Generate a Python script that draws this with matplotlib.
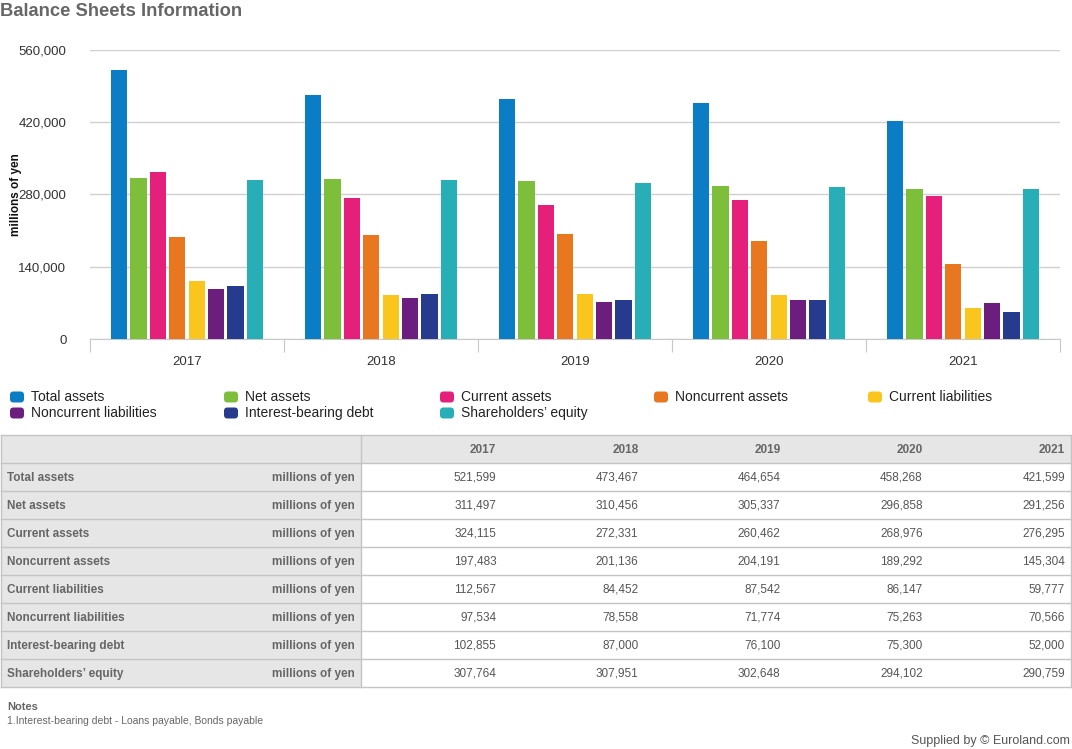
import matplotlib.pyplot as plt
import numpy as np
from matplotlib.patches import Rectangle, FancyBboxPatch

plt.rcParams['font.family'] = ['Liberation Sans', 'DejaVu Sans']

# data
years = ['2017', '2018', '2019', '2020', '2021']
series = ['Total assets', 'Net assets', 'Current assets', 'Noncurrent assets',
          'Current liabilities', 'Noncurrent liabilities', 'Interest-bearing debt',
          "Shareholders' equity"]
total_assets = [521599, 473467, 464654, 458268, 421599]
net_assets = [311497, 310456, 305337, 296858, 291256]
current_assets = [324115, 272331, 260462, 268976, 276295]
noncurrent_assets = [197483, 201136, 204191, 189292, 145304]
current_liab = [112567, 84452, 87542, 86147, 59777]
noncurrent_liab = [97534, 78558, 71774, 75263, 70566]
interest_debt = [102855, 87000, 76100, 75300, 52000]
equity = [307764, 307951, 302648, 294102, 290759]
values = [total_assets, net_assets, current_assets, noncurrent_assets,
          current_liab, noncurrent_liab, interest_debt, equity]
yticks = [0, 140000, 280000, 420000, 560000]
colors = ['#0a7dc5', '#7dbf3b', '#e5207a', '#e8771f', '#fac51c',
          '#6c1e7f', '#263b8d', '#28aeb6']

W, H = 1072, 749
fig = plt.figure(figsize=(W / 100, H / 100), dpi=100)

# ---- bar chart
ax = fig.add_axes([90 / W, 1 - 339 / H, 970 / W, 289 / H])
n = len(series)
pitch = 0.100
bw = 0.083
x = np.arange(len(years))
for i, (name, vals) in enumerate(zip(series, values)):
    ax.bar(x + (i - (n - 1) / 2) * pitch, vals, width=bw, color=colors[i], zorder=3)
ax.set_xlim(-0.5, len(years) - 0.5)
ax.set_ylim(0, 560000)
ax.set_yticks(yticks)
ax.set_yticklabels([f'{v:,}' for v in yticks], fontsize=9.5, color='#333333')
ax.yaxis.grid(True, color='#d0d0d0', lw=1, zorder=0)
ax.tick_params(axis='y', length=0, pad=17)
ax.set_xticks(np.arange(len(years) + 1) - 0.5)
ax.set_xticklabels([])
ax.tick_params(axis='x', length=9, color='#c8c8c8', direction='out')
for xi, yr in zip(x, years):
    ax.text(xi, -0.078, yr, transform=ax.get_xaxis_transform(), ha='center',
            va='center', fontsize=9.5, color='#333333')
for s in ['top', 'right', 'left']:
    ax.spines[s].set_visible(False)
ax.spines['bottom'].set_color('#c8c8c8')
ax.set_ylabel('millions of yen', fontsize=8.5, fontweight='bold', color='#111111')
ax.yaxis.set_label_coords(-68 / 970, 0.5)

# ---- overlay in pixel coords for legend, table, texts
ov = fig.add_axes([0, 0, 1, 1])
ov.set_xlim(0, W)
ov.set_ylim(H, 0)
ov.axis('off')

ov.text(0, 11, 'Balance Sheets Information', fontsize=13.2, fontweight='bold',
        color='#666666', va='center', ha='left')

# legend
leg_x = [10, 224, 440, 654, 868]
leg_y = [397, 413]
for i, name in enumerate(series):
    lx = leg_x[i % 5]
    ly = leg_y[i // 5]
    ov.add_patch(FancyBboxPatch((lx, ly - 5.5), 14, 11,
                                boxstyle='round,pad=0,rounding_size=3.5',
                                fc=colors[i], ec='none'))
    ov.text(lx + 21, ly, name.replace("'", '\u2019'), fontsize=10, color='#222222',
            va='center', ha='left')

# table
top = 435
rh = 28
left_w = 361
col_w = 142.2
nrows = len(series) + 1
grid_c = '#c4c4c4'
ov.add_patch(Rectangle((0.5, top), W - 1.5, rh, fc='#e6e6e6', ec='none'))
ov.add_patch(Rectangle((0.5, top + rh), left_w, rh * len(series), fc='#e6e6e6', ec='none'))
for r in range(nrows + 1):
    ov.plot([0.5, W - 1], [top + r * rh, top + r * rh], color=grid_c, lw=1)
ov.plot([0.5, 0.5], [top, top + nrows * rh], color=grid_c, lw=1)
ov.plot([W - 1, W - 1], [top, top + nrows * rh], color=grid_c, lw=1)
ov.plot([left_w, left_w], [top, top + nrows * rh], color=grid_c, lw=1)
for j, yr in enumerate(years):
    ov.text(left_w + (j + 1) * col_w - 7, top + rh / 2 + 1, yr, fontsize=8.5,
            fontweight='bold', color='#666666', ha='right', va='center')
for i, (name, vals) in enumerate(zip(series, values)):
    yc = top + (i + 1) * rh + rh / 2 + 1
    ov.text(7, yc, name.replace("'", '\u2019'), fontsize=8.5, fontweight='bold',
            color='#666666', ha='left', va='center')
    ov.text(left_w - 6, yc, 'millions of yen', fontsize=8.5, fontweight='bold',
            color='#666666', ha='right', va='center')
    for j, v in enumerate(vals):
        ov.text(left_w + (j + 1) * col_w - 7, yc, f'{v:,}', fontsize=8.5,
                color='#555555', ha='right', va='center')

ov.text(7, 707, 'Notes', fontsize=8, fontweight='bold', color='#666666', va='center')
ov.text(7, 721, '1.Interest-bearing debt - Loans payable, Bonds payable', fontsize=7.5,
        color='#666666', va='center')
ov.text(1070, 741, 'Supplied by \u00a9 Euroland.com', fontsize=9, color='#555555',
        ha='right', va='center')

fig.savefig('out.png', dpi=100, facecolor='white')
